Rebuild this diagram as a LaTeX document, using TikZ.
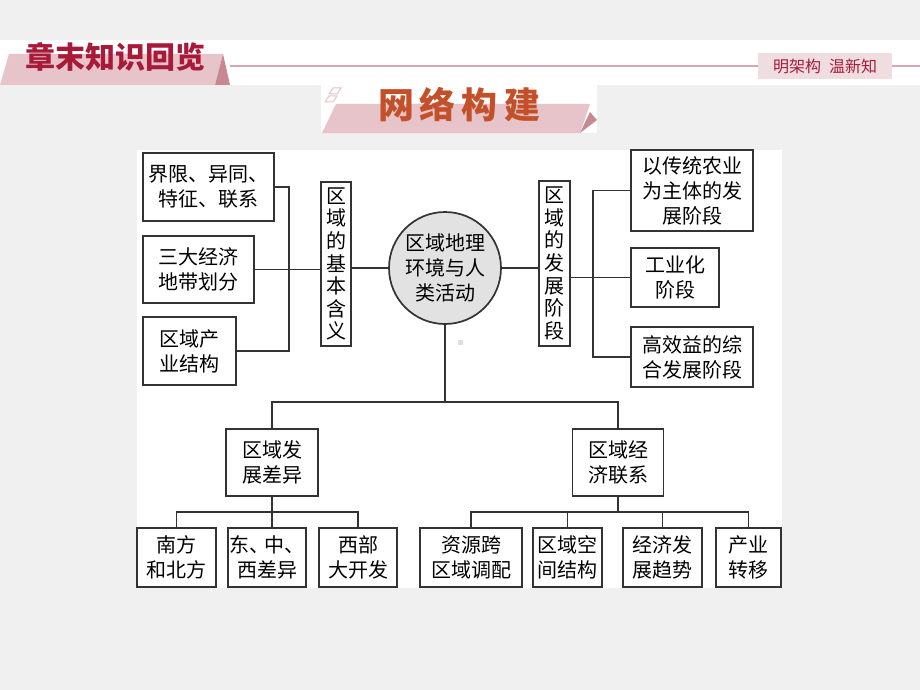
\documentclass[tikz,border=0pt]{standalone}
\usepackage{fontspec}
\newfontfamily\cjk{Noto Sans CJK SC}
\definecolor{bggray}{HTML}{F0F0F0}
\definecolor{linec}{HTML}{333333}
\definecolor{crimson}{HTML}{A8193A}
\definecolor{bandpink}{HTML}{E6C4C9}
\definecolor{foldpink}{HTML}{C98792}
\definecolor{rulepink}{HTML}{D7A7AF}
\definecolor{tagpink}{HTML}{F0DDE0}
\definecolor{titleorange}{HTML}{C4502A}
\definecolor{circgray}{HTML}{E2E2E2}

\begin{document}
\begin{tikzpicture}[x=1pt, y=-1pt,
    box/.style={draw=linec, line width=1.7pt, fill=white, align=center, inner sep=1pt,
      font=\cjk\fontsize{20}{25}\selectfont},
    vbox/.style={box, font=\cjk\fontsize{20}{22.6}\selectfont},
    leaf/.style={box, minimum height=59pt},
    ln/.style={draw=linec, line width=1.7pt}]
  \useasboundingbox (0,0) rectangle (920,690);
  \fill[bggray] (0,0) rectangle (920,690);
  \fill[white] (0,40) rectangle (920,85);
  \fill[white] (321,85) rectangle (597,133);
  \fill[white] (137,150) rectangle (782,588);

  % header
  \fill[bandpink] (0,85) -- (9,54) -- (223,54) -- (215,85) -- cycle;
  \fill[foldpink] (223,54) -- (230,85) -- (215,85) -- cycle;
  \draw[rulepink, line width=2pt] (230,66) -- (920,66);
  \node[font=\cjk\bfseries\fontsize{30}{30}\selectfont, text=crimson] (head) at (115,57) {章末知识回览};
  \node[fill=tagpink, minimum width=134pt, minimum height=26pt, inner sep=0pt,
    font=\cjk\fontsize{16}{16}\selectfont, text=crimson] (tag) at (825,66) {明架构\hspace{8pt}温新知};

  % title banner
  \fill[bandpink] (322,133) -- (336,104) -- (590,104) -- (580,133) -- cycle;
  \fill[foldpink] (580,133) -- (590,112) -- (597,120) -- cycle;
  \draw[bandpink, line width=1pt, fill=white] (329,94) -- (333,88) -- (341,88) -- (337,94) -- cycle;
  \draw[bandpink, line width=1pt, fill=white] (325,102) -- (329,96) -- (337,96) -- (333,102) -- cycle;
  \node[font=\cjk\bfseries\fontsize{36}{36}\selectfont, text=titleorange] (title) at (459,105)
    {网\hspace{6pt}络\hspace{6pt}构\hspace{6pt}建};

  % nodes
  \node[circle, draw=linec, line width=1.7pt, fill=circgray, minimum size=112pt, inner sep=0pt,
    align=center, font=\cjk\fontsize{20}{25}\selectfont] (core) at (445,268) {区域地理\\环境与人\\类活动};

  \node[vbox, minimum width=30pt, minimum height=164pt] (mean) at (336,264) {区\\域\\的\\基\\本\\含\\义};
  \node[box, minimum width=131pt, minimum height=68pt] (bound) at (208.5,187) {界限、异同、\\特征、联系};
  \node[box, minimum width=111pt, minimum height=67pt] (belt) at (198.5,269.5) {三大经济\\地带划分};
  \node[box, minimum width=93pt, minimum height=68pt] (indus) at (189.5,351) {区域产\\业结构};

  \node[vbox, minimum width=31pt, minimum height=165pt] (stage) at (554.5,263.5) {区\\域\\的\\发\\展\\阶\\段};
  \node[box, minimum width=122pt, minimum height=81pt] (agri) at (692,190.5) {以传统农业\\为主体的发\\展阶段};
  \node[box, minimum width=88pt, minimum height=59pt] (ind) at (675,277.5) {工业化\\阶段};
  \node[box, minimum width=122pt, minimum height=60pt] (eff) at (692,357) {高效益的综\\合发展阶段};

  \node[box, minimum width=92pt, minimum height=67pt] (diff) at (272,462.5) {区域发\\展差异};
  \node[box, minimum width=91pt, minimum height=67pt] (link) at (618,462.5) {区域经\\济联系};

  \node[leaf, minimum width=79pt] (ns) at (176.5,557.5) {南方\\和北方};
  \node[leaf, minimum width=78pt] (ecw) at (267,557.5) {东、\hspace{-5pt}中、\\西差异};
  \node[leaf, minimum width=78pt] (west) at (358,557.5) {西部\\大开发};
  \node[leaf, minimum width=102pt] (res) at (471,557.5) {资源跨\\区域调配};
  \node[leaf, minimum width=69pt] (spat) at (567.5,557.5) {区域空\\间结构};
  \node[leaf, minimum width=79pt] (trend) at (662.5,557.5) {经济发\\展趋势};
  \node[leaf, minimum width=65pt] (move) at (748.5,557.5) {产业\\转移};

  \fill[gray!25] (458,340) rectangle (463,345);

  % connectors
  \coordinate (lt) at (289,0);
  \coordinate (rt) at (593,0);
  \coordinate (hb) at (0,402);
  \coordinate (hd) at (0,512);

  \draw[ln] (bound.east) -- (bound.east -| lt) -- (indus.east -| lt) -- (indus.east);
  \draw[ln] (belt.east) -- (belt.east -| mean.west);
  \draw[ln] (mean.east |- core.west) -- (core.west);

  \draw[ln] (core.east) -- (core.east -| stage.west);
  \draw[ln] (stage.east |- ind.west) -- (ind.west);
  \draw[ln] (agri.west) -- (agri.west -| rt) -- (eff.west -| rt) -- (eff.west);

  \draw[ln] (core.south) -- (core.south |- hb);
  \draw[ln] (diff.north) -- (diff.north |- hb) -- (link.north |- hb) -- (link.north);

  \draw[ln] (diff.south) -- (diff.south |- ecw.north);
  \draw[ln] (ns.north) -- (ns.north |- hd) -- (west.north |- hd) -- (west.north);

  \draw[ln] (link.south) -- (link.south |- hd);
  \draw[ln] (res.north) -- (res.north |- hd) -- (move.north |- hd) -- (move.north);
  \draw[ln] (spat.north) -- (spat.north |- hd);
  \draw[ln] (trend.north) -- (trend.north |- hd);
\end{tikzpicture}
\end{document}
